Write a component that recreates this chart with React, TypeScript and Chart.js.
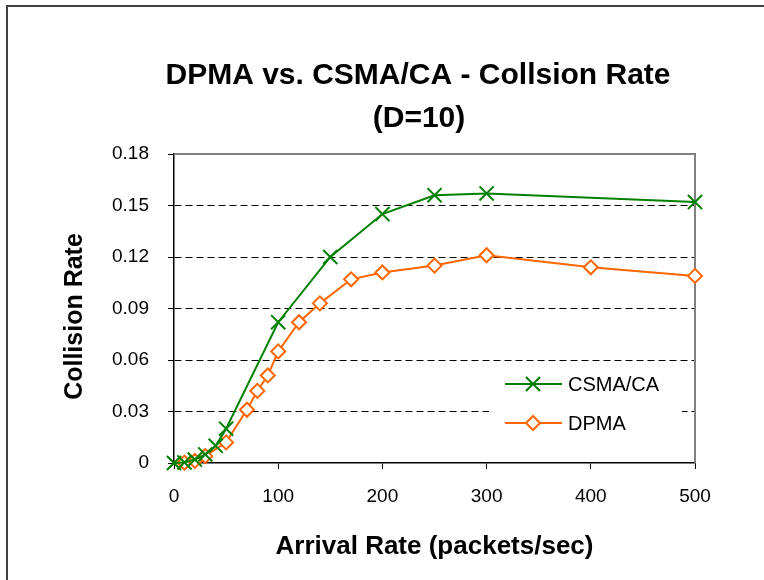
import React, { useEffect, useRef } from "react";
import { Chart, registerables } from "chart.js";

Chart.register(...registerables);

// Chart text
const titleLines = ["DPMA vs. CSMA/CA - Collsion Rate", "(D=10)"];
const xAxisTitle = "Arrival Rate (packets/sec)";
const yAxisTitle = "Collision Rate";
const seriesNames = ["CSMA/CA", "DPMA"];

// CSMA/CA series: arrival rate (packets/sec) and collision rate
const csmaRates = [0, 10, 20, 30, 40, 50, 100, 150, 200, 250, 300, 500];
const csmaCollision = [0, 0.0003, 0.002, 0.005, 0.01, 0.02, 0.082, 0.12, 0.145, 0.156, 0.157, 0.152];

// DPMA series
const dpmaRates = [10, 20, 30, 50, 70, 80, 90, 100, 120, 140, 170, 200, 250, 300, 400, 500];
const dpmaCollision = [
  0.0002, 0.0012, 0.004, 0.012, 0.031, 0.042, 0.051, 0.065, 0.082, 0.093, 0.107, 0.111, 0.115, 0.121,
  0.114, 0.109,
];

// Axis ticks
const xTickValues = [0, 100, 200, 300, 400, 500];
const yTickValues = [0, 0.03, 0.06, 0.09, 0.12, 0.15, 0.18];

const FONT = "'Liberation Sans', Arial, Helvetica, sans-serif";
const GREEN = "#008000";
const ORANGE = "#FF6600";

const W = 764;
const H = 580;

// Two-line bold title and the rotated y-axis title
const titlePlugin = {
  id: "chartTexts",
  afterDraw(chart: any) {
    const { ctx, chartArea } = chart;
    ctx.save();
    ctx.fillStyle = "#000";
    ctx.font = `bold 30px ${FONT}`;
    ctx.textAlign = "center";
    ctx.textBaseline = "alphabetic";
    ctx.fillText(titleLines[0], 418, 84);
    ctx.fillText(titleLines[1], 419, 127);

    ctx.translate(82, (chartArea.top + chartArea.bottom) / 2 + 8);
    ctx.rotate(-Math.PI / 2);
    ctx.font = `bold 25px ${FONT}`;
    ctx.fillText(yAxisTitle, 0, 0);
    ctx.restore();
  },
};

// Gray frame on the top and right of the plot area
const plotFramePlugin = {
  id: "plotFrame",
  beforeDatasetsDraw(chart: any) {
    const { ctx, chartArea } = chart;
    ctx.save();
    ctx.strokeStyle = "#808080";
    ctx.lineWidth = 2;
    ctx.beginPath();
    ctx.moveTo(chartArea.left, chartArea.top);
    ctx.lineTo(chartArea.right, chartArea.top);
    ctx.lineTo(chartArea.right, chartArea.bottom);
    ctx.stroke();
    ctx.restore();
  },
};

function drawMarker(ctx: CanvasRenderingContext2D, style: string, r: number, x: number, y: number) {
  ctx.beginPath();
  if (style === "crossRot") {
    const d = r * Math.SQRT1_2;
    ctx.moveTo(x - d, y - d);
    ctx.lineTo(x + d, y + d);
    ctx.moveTo(x - d, y + d);
    ctx.lineTo(x + d, y - d);
    ctx.stroke();
  } else {
    ctx.moveTo(x, y - r);
    ctx.lineTo(x + r, y);
    ctx.lineTo(x, y + r);
    ctx.lineTo(x - r, y);
    ctx.closePath();
    ctx.fill();
    ctx.stroke();
  }
}

// Legend box placed inside the plot area, lower right
const legendPlugin = {
  id: "insetLegend",
  afterDraw(chart: any) {
    const ctx = chart.ctx;
    ctx.save();
    ctx.fillStyle = "#fff";
    ctx.fillRect(489, 364, 193, 78);
    chart.data.datasets.forEach((ds: any, i: number) => {
      const y = 384 + i * 39;
      ctx.strokeStyle = ds.borderColor;
      ctx.lineWidth = ds.borderWidth;
      ctx.beginPath();
      ctx.moveTo(505, y);
      ctx.lineTo(562, y);
      ctx.stroke();
      ctx.fillStyle = ds.pointBackgroundColor;
      ctx.lineWidth = ds.pointBorderWidth;
      drawMarker(ctx, ds.pointStyle, ds.pointRadius, 533, y);
      ctx.fillStyle = "#000";
      ctx.font = `20px ${FONT}`;
      ctx.textAlign = "left";
      ctx.textBaseline = "middle";
      ctx.fillText(ds.label, 568, y + 1);
    });
    ctx.restore();
  },
};

export default function App() {
  const canvasRef = useRef<HTMLCanvasElement | null>(null);

  useEffect(() => {
    const canvas = canvasRef.current;
    if (!canvas) return;

    const chart = new Chart(canvas, {
      type: "line",
      data: {
        datasets: [
          {
            label: seriesNames[0],
            data: csmaRates.map((x, i) => ({ x, y: csmaCollision[i] })),
            borderColor: GREEN,
            backgroundColor: GREEN,
            borderWidth: 2,
            pointStyle: "crossRot",
            pointRadius: 10,
            pointBorderWidth: 2,
            pointBorderColor: GREEN,
            pointBackgroundColor: GREEN,
            tension: 0,
            clip: false as any,
          },
          {
            label: seriesNames[1],
            data: dpmaRates.map((x, i) => ({ x, y: dpmaCollision[i] })),
            borderColor: ORANGE,
            backgroundColor: ORANGE,
            borderWidth: 2,
            pointStyle: "rectRot",
            pointRadius: 7,
            pointBorderWidth: 2,
            pointBorderColor: ORANGE,
            pointBackgroundColor: "#fff",
            tension: 0,
            clip: false as any,
          },
        ],
      },
      options: {
        responsive: false,
        animation: false,
        events: [],
        layout: { padding: { left: 0, top: 154, right: W - 695, bottom: 0 } },
        plugins: {
          legend: { display: false },
          title: { display: false },
          tooltip: { enabled: false },
        },
        scales: {
          x: {
            type: "linear",
            min: 0,
            max: 500,
            afterBuildTicks: (s: any) => {
              s.ticks = xTickValues.map((v) => ({ value: v }));
            },
            afterFit: (s: any) => {
              s.height = H - 463;
            },
            ticks: {
              font: { family: FONT, size: 19 },
              color: "#000",
              padding: 16,
              maxRotation: 0,
              autoSkip: false,
              callback: (v: any) => String(v),
            },
            grid: {
              drawOnChartArea: false,
              drawTicks: true,
              tickLength: 6,
              color: "#000",
              tickColor: "#000",
              lineWidth: 1,
            },
            border: { display: true, color: "#000", width: 1.5 },
            title: {
              display: true,
              text: xAxisTitle,
              color: "#000",
              font: { family: FONT, size: 26, weight: "bold" },
              padding: { top: 0, bottom: 18 },
            },
          },
          y: {
            type: "linear",
            min: 0,
            max: 0.18,
            afterBuildTicks: (s: any) => {
              s.ticks = yTickValues.map((v) => ({ value: v }));
            },
            afterFit: (s: any) => {
              s.width = 174;
            },
            ticks: {
              font: { family: FONT, size: 19 },
              color: "#000",
              padding: 19,
              callback: (v: any) => (Number(v) === 0 ? "0" : Number(v).toFixed(2)),
            },
            grid: {
              drawTicks: true,
              tickLength: 6,
              lineWidth: 1,
              color: (c: any) => {
                const v = c.tick ? c.tick.value : null;
                return v === 0 || v === 0.18 ? "rgba(0,0,0,0)" : "#000";
              },
              tickColor: "#000",
            },
            border: { display: true, color: "#000", width: 1.5, dash: [7, 4] },
            title: { display: false },
          },
        },
      },
      plugins: [titlePlugin, plotFramePlugin, legendPlugin],
    } as any);

    return () => chart.destroy();
  }, []);

  return (
    <div style={{ position: "fixed", left: 0, top: 0, width: W, height: H, overflow: "hidden", background: "#fff" }}>
      <div
        style={{
          position: "absolute",
          left: 6,
          top: 5,
          width: 820,
          height: 640,
          border: "2px solid #404040",
          boxSizing: "border-box",
        }}
      />
      <canvas
        ref={canvasRef}
        width={W}
        height={H}
        style={{ position: "absolute", left: 0, top: 0, width: W, height: H }}
      />
    </div>
  );
}
